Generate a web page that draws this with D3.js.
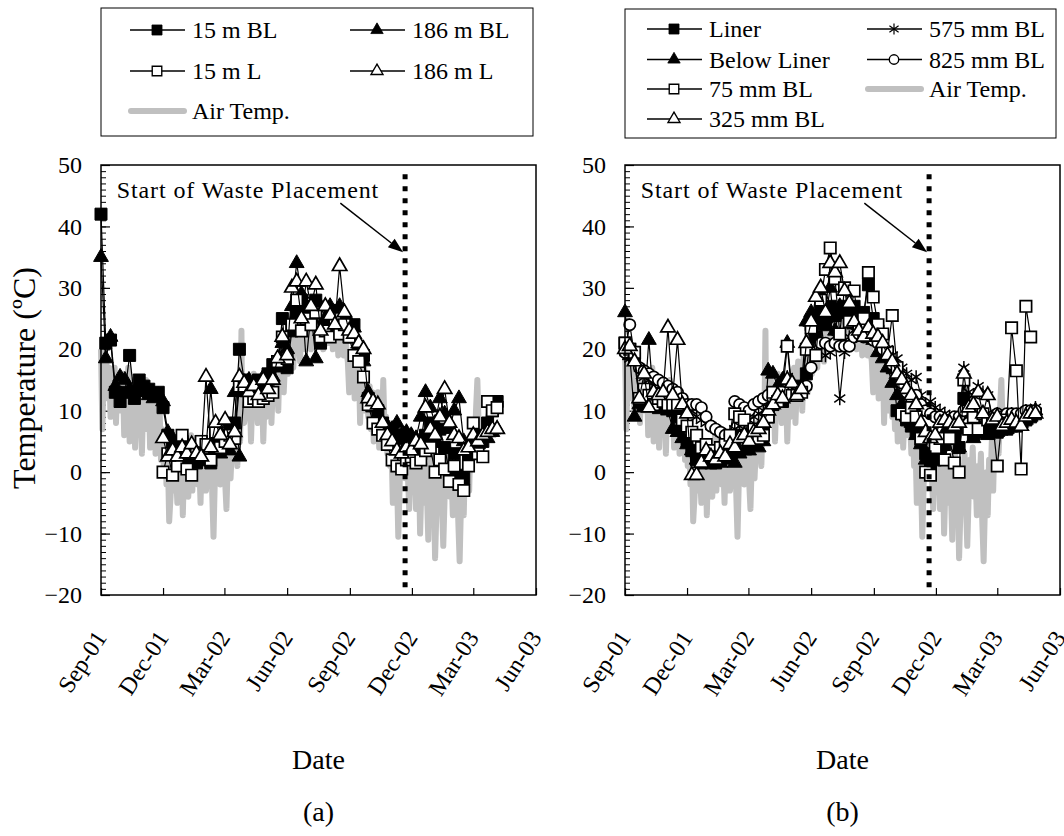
<!DOCTYPE html>
<html>
<head>
<meta charset="utf-8">
<script src="https://cdn.jsdelivr.net/npm/d3@7"></script>
<style>
body { margin: 0; background: #fff; }
svg text { font-family: "Liberation Serif", "Times New Roman", serif; fill: #000; }
</style>
</head>
<body>
<div id="chart"></div>
<script>

// axis labels
var xTickLabels = ["Sep-01", "Dec-01", "Mar-02", "Jun-02", "Sep-02", "Dec-02", "Mar-03", "Jun-03"];
var yTickValues = [-20, -10, 0, 10, 20, 30, 40, 50];

// air temperature, [days after 1 Sep 2001, deg C]
var airTemp = [
  [0,20],[2,7],[4,17],[6,14],[8,18],[10,12],[12,17],[14,9],[16,16],[18,13],[20,17],[22,8],[24,15],[26,11],[28,16],
  [30,10],[32,16],[34,6],[36,14],[38,12],[40,17],[42,5],[44,13],[46,9],[48,15],[50,4],[52,12],[54,8],[56,14],[58,10],[60,3],
  [62,12],[64,7],[66,15],[68,9],[70,13],[72,4],[74,11],[76,6],[78,12],[80,3],[82,9],[84,5],[86,10],[88,2],[90,7],
  [92,1],[94,6],[96,-2],[98,3],[100,-8],[102,-4],[104,2],[106,-3],[108,5],[110,0],[112,-5],[114,3],[116,-1],[118,4],[120,-7],
  [122,2],[124,-2],[126,4],[128,-4],[130,1],[132,6],[134,-3],[136,3],[138,-1],[140,5],[142,-2],[144,2],[146,-5],[148,4],[150,0],
  [152,3],[154,-3],[156,2],[158,5],[160,-2],[162,1],[165,-10.5],[167,-1],[169,4],[171,0],[173,6],[175,-2],[177,3],[179,7],
  [181,1],[184,-6],[186,2],[188,5],[190,-1],[192,4],[194,8],[196,3],[198,6],[200,1],[202,9],[204,5],[206,23],[207,9],[210,8],
  [212,10],[214,15],[216,9],[218,14],[220,5],[222,12],[224,16],[226,10],[228,13],[230,8],[232,15],[234,11],[236,14],[238,5],[240,12],
  [242,9],[244,15],[246,11],[248,17],[250,8],[252,14],[254,18],[256,12],[258,16],[260,10],[262,19],[264,14],[266,21],[268,13],[270,18],[272,22],
  [274,16],[276,24],[278,19],[280,25],[282,17],[284,22],[286,26],[288,20],[290,23],[292,18],[294,25],[296,21],[298,27],[300,20],[302,24],
  [304,22],[306,26],[308,20],[310,25],[312,23],[314,27],[316,21],[318,24],[320,26],[322,22],[324,25],[326,20],[328,24],[330,26],[332,21],
  [334,24],[336,21],[338,25],[340,20],[342,23],[344,22],[346,24],[348,19],[350,23],[352,21],[354,22],[356,19],[358,22],[360,20],[362,18],[364,13],
  [366,19],[368,16],[370,20],[372,12],[374,18],[376,15],[378,19],[380,8],[382,16],[384,12],[386,17],[388,10],[390,15],[392,9],[394,14],
  [396,7],[398,13],[400,5],[402,11],[404,8],[406,13],[408,4],[410,10],[412,7],[414,15],[416,6],[418,9],[420,3],[422,8],[424,1],
  [426,5],[428,-5],[430,3],[432,6],[434,0],[436,-10.5],[438,-2],[440,4],[442,1],[444,7],[446,-1],[448,3],[450,0],[452,-6],[454,2],
  [456,4],[458,-3],[460,2],[462,-6],[464,1],[466,3],[468,-10],[470,-2],[472,2],[474,-5],[476,1],[478,-3],[480,-11],[482,0],[484,3],[486,-4],
  [488,-2],[490,-14],[492,-6],[494,1],[496,-3],[498,3],[500,-5],[502,-12],[504,-4],[506,2],[508,-1],[510,4],[512,-4],[514,0],[516,-7],
  [518,1],[520,-3],[522,3],[524,-8],[526,-14.5],[528,-5],[530,0],[532,-7],[534,2],[536,-2],[538,5],[540,-3],[542,6],[544,1],
  [546,8],[548,3],[550,10],[552,15],[554,7]
];

// sampling dates shared by both panels
var sampleDates = [
  "2001-09-01","2001-09-08","2001-09-15","2001-09-22","2001-09-29","2001-10-06","2001-10-13","2001-10-20","2001-10-27","2001-11-03",
  "2001-11-10","2001-11-17","2001-11-24","2001-12-01","2001-12-08","2001-12-15","2001-12-22","2001-12-29","2002-01-05","2002-01-12",
  "2002-01-19","2002-01-26","2002-02-02","2002-02-09","2002-02-16","2002-02-23","2002-03-02","2002-03-09","2002-03-16","2002-03-23",
  "2002-03-30","2002-04-06","2002-04-13","2002-04-20","2002-04-27","2002-05-04","2002-05-11","2002-05-18","2002-05-25","2002-06-01",
  "2002-06-08","2002-06-15","2002-06-22","2002-06-29","2002-07-06","2002-07-13","2002-07-20","2002-07-27","2002-08-03","2002-08-10",
  "2002-08-17","2002-08-24","2002-08-31","2002-09-07","2002-09-14","2002-09-21","2002-09-28","2002-10-05","2002-10-12","2002-10-19",
  "2002-10-26","2002-11-02","2002-11-09","2002-11-16","2002-11-23","2002-11-30","2002-12-07","2002-12-14","2002-12-21","2002-12-28",
  "2003-01-04","2003-01-11","2003-01-18","2003-01-25","2003-02-01","2003-02-08","2003-02-15","2003-02-22","2003-03-01","2003-03-08",
  "2003-03-15","2003-03-22","2003-03-29","2003-04-05","2003-04-12","2003-04-19","2003-04-26"
];

// panel (a)
var bl15m = [
  42, 21, 21.5, 13, 11.5, 13, 19, 12, 15, 14,
  13.5, 12.5, 13, 10.5, 6, 4, 3, 5, 2, 4,
  1.5, 5, 2, 1.5, 3.5, 6, 4, 7, 8, 20,
  15, 14, 13, 15, 14.5, 16, 17.5, 18, 25, 17,
  23, 26, 28, 27, 27, 28, 21, 24, 26, 23,
  25, 23, 22, 24, 20, 19, 12, 11, 10, 8,
  7, 6.5, 6, 5.5, 6, 5.5, 4, 3, 6, 8,
  5, 7, 4, 0, 3, -0.5, -1, 2, 4, 6,
  5, 8, 10, 11.5, null, null, null
];
var bl186m = [
  35, 18.5, 22, 14, 15.5, 15, 13.5, 13, 14, 13,
  12.5, 12, 12.5, 11.5, 6.5, 5.5, 4, 3, 4.5, 2.5,
  3, 2, 4, 13.5, 5, 3, 5, 3.5, 13, 2.5,
  13, 15, 14.5, 14, 15.5, 14, 15.5, 17, 21, 20,
  27, 34, 29, 18, 26, 18.5, 27, 25, 27, 26,
  27, 25, 24.5, 23.5, 21, 18, 13, 10.5, 8.5, 8,
  7.5, 7, 8, 6, 6.5, 6, 5.5, 9, 13, 10.5,
  8, 12, 9.5, 7, 10, 12, 5, 3.5, 5, 4.5,
  6, 5.5, 6.5, 7, null, null, null
];
var l15m = [
  null, null, null, null, null, null, null, null, null, null,
  null, null, null, 0, 3, -0.5, 1, 6, 0.5, -0.5,
  3, 5, 4.5, 2, 6.5, 4, 5, 6, 5.5, 14,
  14, 11.5, 12, 11.5, 12, 12.5, 13, 18, 22, 18.5,
  24, 28, 23, 25, 24, 26, 22, 23, 22, 25,
  22.5, 24, 22, 19, 18, 15.5, 11, 8, 7, 6,
  4.5, 2, 1, 0.5, 2, 2.5, 1.5, 2, 3.5, 4,
  0, 2, 0.5, -1.5, 1, -2, -3, 1, 8, 3,
  2.5, 11.5, 10, 10.5, null, null, null
];
var l186m = [
  null, null, null, null, null, null, null, null, null, null,
  null, null, null, 5.5, 2.5, 3.5, 2.5, 4, 3, 4.5,
  3, 2.5, 15.5, 4, 8, 6, 8.5, 4.5, 6.5, 15.5,
  14.5, 13, 14, 12.5, 15, 13.5, 15, 18.5, 22, 19,
  30, 31, 25, 31, 27, 30.5, 23, 27, 25.5, 24,
  33.5, 26, 23, 22.5, 21, 20, 12, 11.5, 11, 8,
  6, 5, 3.5, 3, 4, 3.5, 5, 4.5, 10.5, 7,
  6, 9, 13.5, 8, 6, 5.5, 3.5, 4, 6, 5,
  6, 6.5, 7, 7, null, null, null
];

// panel (b)
var liner = [
  21, 20, 18.5, 12, 11, 12, 11.5, 10.5, 11, 10.5,
  10, 9, 8, 5, 3.5, 2, 1.5, 2, 1.5, 1.5,
  2, 3, 3.5, 5, 6, 6, 5.5, 6.5, 5.5, 7,
  9, 11, 12, 11.5, 13, 12.5, 13, 14, 16, 24,
  22, 26, 24, 27, 25.5, 26, 27, 25, 27, 24.5,
  26, 30.5, 25, 23, 20, 19, 17, 10, 9.5, 8.5,
  7.5, 6.5, 5, 3, 1, 2, 3.5, 4.5, 5.5, 6,
  4, 12, 9, 6, 6.5, 7, 6.5, 7, 6.5, 7,
  7, 7.5, 7.5, 8, 8.5, 9, 9.5
];
var belowLiner = [
  26, 19, 9, 11, 10.5, 21.5, 11.5, 11, 10.5, 10,
  7, 6.5, 5.5, 4.5, 3.5, 2, 3, 1.5, 1.5, 2,
  1.5, 2, 2.5, 1.5, 3, 3.5, 3.5, 4.5, 4, 5,
  16.5, 16, 14, 15, 21, 13.5, 12.5, 14, 24.5, 26,
  24.5, 29, 25, 30, 23, 27, 26, 26.5, 24, 23.5,
  22.5, 25, 21.5, 19.5, 18.5, 17, 14.5, 12.5, 11, 9,
  8, 6, 4.5, 2, 2.5, 3.5, 5, 6.5, 6, 5.5,
  4, 9, 7, 5.5, 7, 6.5, 6, 7, 6.5, 7.5,
  7, 8, 7.5, 8, 8.5, 9, 10
];
var bl75mm = [
  21, 20, 19.5, 12, 13.5, 12.5, 11, 12, 11.5, 11,
  11, 11, 8.5, 7.5, 6.5, 6, 4, 4.5, 3.5, 2.5,
  4, 4.5, 6, 9.5, 9, 8.5, 5.5, 7, 5.5, 6,
  9, 13, 11.5, 13, 20.5, 12.5, 12.5, 13, 20, 23.5,
  19, 28, 33, 36.5, 31.5, 22.5, 30, 24.5, 29.5, 24,
  25, 32.5, 28.5, 24, 22.5, 19.5, 25.5, 17, 9.5, 9,
  10.5, 9, 5.5, 0, -0.5, 4, 5.5, 2, 5.5, 1.5,
  0, 15, 7, 9, 7, 9.5, 8.5, 8.5, 1, 8.5,
  8, 23.5, 16.5, 0.5, 27, 22, null
];
var bl325mm = [
  20, 20.5, 18, 12, 16, 10.5, 13, 12.5, 13, 23.5,
  12.5, 21.5, 11, 9.5, -0.5, -0.5, 1.5, 3.5, 2.5, 2,
  3, 2.5, 4.5, 4, 5.5, 6, 5, 6.5, 7, 8,
  10, 11, 12.5, 12, 15, 14.5, 12.5, 13.5, 21, 24.5,
  28.5, 30, 26, 34, 32.5, 34, 29.5, 27.5, 24.5, 23,
  22, 23.5, 22.5, 22, 21, 19, 18, 16, 15, 13.5,
  12.5, 11, 8, 6.5, 5.5, 6, 8, 8.5, 8, 7.5,
  8, 16, 10.5, 11, 13, 9.5, 12.5, 8.5, 9, 7.5,
  8, 8.5, 8, 7.5, 9, 9.5, 9.5
];
var bl575mm = [
  19.5, 18.5, 18, 17, 15.5, 15, 14, 13.5, 13, 12.5,
  12, 11.5, 11, 10.5, 10, 9, 8.5, 8, 7.5, 7,
  6.5, 6, 6.5, 7, 7.5, 8, 8.5, 9, 9.5, 10,
  10.5, 11, 11.5, 12, 15.5, 13, 12.5, 13, 14, 19.5,
  22, 24.5, 19, 19.5, 22, 12, 19.5, 22, 23, 24,
  23, 22.5, 23, 22.5, 21.5, 20, 19, 18.5, 17, 16,
  15, 15.5, 12.5, 11, 11.5, 10.5, 10, 9.5, 9, 8.5,
  8, 17, 13, 12.5, 14, 13, 12.5, 9, 9.5, 8.5,
  9, 9.5, 9, 9.5, 10, 10, 10.5
];
var bl825mm = [
  19.5, 24, 19, 17, 16.5, 16, 15.5, 15, 14.5, 14,
  13.5, 13, 12, 11, 11, 11, 10.5, 9, 7.5, 7,
  6.5, 6, 6, 11.5, 11, 10.5, 10, 11, 11.5, 12,
  12.5, 12, 13, 12.5, 13, 13, 13, 13.5, 14, 17,
  19, 21, 21, 20.5, 21, 20.5, 20.5, 20.5, 22, 22.5,
  22, 22, 21.5, 21, 20, 19, 17.5, 16, 14.5, 13,
  12, 12.5, 11, 10, 9.5, 9, 9, 8.5, 8.5, 9,
  9, 10, 8, 9, 9.5, 9, 8.5, 9, 9.5, 9,
  9.5, 9.5, 9.5, 9.5, 10, 10, 10
];

// start of waste placement
var wasteDate = "2002-11-21";
var wasteLabel = "Start of Waste Placement";

var W = 1064, H = 836;
var parseDay = d3.timeParse("%Y-%m-%d");
var parseTick = d3.timeParse("%b-%y");
var day0 = parseDay("2001-09-01");

var svg = d3.select("#chart")
  .append("svg")
  .attr("width", W)
  .attr("height", H);

// 6 point asterisk, stroke only
var symbolStar = {
  draw: function (context, size) {
    var r = Math.sqrt(size) / 2;
    [90, 35, 145].forEach(function (a) {
      var t = a * Math.PI / 180;
      context.moveTo(-r * Math.cos(t), -r * Math.sin(t));
      context.lineTo(r * Math.cos(t), r * Math.sin(t));
    });
  }
};

var markers = {
  fsquare: { type: d3.symbolSquare, size: 144, fill: "#000", sw: 1 },
  ftri: { type: d3.symbolTriangle, size: 95, fill: "#000", sw: 1 },
  osquare: { type: d3.symbolSquare, size: 130, fill: "#fff", sw: 1.7 },
  otri: { type: d3.symbolTriangle, size: 90, fill: "#fff", sw: 1.7 },
  star: { type: symbolStar, size: 180, fill: "none", sw: 1.5 },
  ocircle: { type: d3.symbolCircle, size: 100, fill: "#fff", sw: 1.7 }
};

function markerPath(m, scale) {
  return d3.symbol().type(m.type).size(m.size * (scale || 1))();
}

function drawPanel(p) {
  var g = svg.append("g");

  var x = d3.scaleTime()
    .domain([parseTick(xTickLabels[0]), parseTick(xTickLabels[xTickLabels.length - 1])])
    .range([p.left, p.right]);
  var y = d3.scaleLinear().domain([-20, 50]).range([p.bottom, p.top]);

  // y minor ticks
  g.append("g")
    .attr("transform", "translate(" + p.left + ",0)")
    .call(d3.axisLeft(y).tickValues(d3.range(-20, 51, 1)).tickSize(-5).tickSizeOuter(0).tickFormat(""))
    .call(function (a) { a.select(".domain").remove(); });

  // y major ticks
  var ya = g.append("g")
    .attr("transform", "translate(" + p.left + ",0)")
    .call(d3.axisLeft(y).tickValues(yTickValues).tickSize(-9).tickSizeOuter(0).tickPadding(19));
  ya.select(".domain").remove();
  ya.selectAll("line").attr("stroke-width", 1.2);
  ya.selectAll("text")
    .style("font-family", "Liberation Serif, serif")
    .style("font-size", "24px");

  // x ticks
  var tickDates = xTickLabels.map(function (t) { return parseTick(t); });
  var xa = g.append("g")
    .attr("transform", "translate(0," + p.bottom + ")")
    .call(d3.axisBottom(x).tickValues(tickDates).tickSize(-7).tickSizeOuter(0)
      .tickFormat(function (d, i) { return xTickLabels[i]; }));
  xa.select(".domain").remove();
  xa.selectAll("line").attr("stroke-width", 1.2);
  xa.selectAll("text")
    .attr("x", 0).attr("y", 0).attr("dy", "0.35em")
    .attr("text-anchor", "end")
    .attr("transform", "translate(-1,38) rotate(-57)")
    .style("font-family", "Liberation Serif, serif")
    .style("font-size", "24px");

  // air temperature
  var airLine = d3.line()
    .x(function (d) { return x(d3.timeDay.offset(day0, d[0])); })
    .y(function (d) { return y(d[1]); });
  g.append("path")
    .attr("d", airLine(airTemp))
    .attr("fill", "none")
    .attr("stroke", "#c0c0c0")
    .attr("stroke-width", 6)
    .attr("stroke-linejoin", "round");

  var line = d3.line()
    .x(function (d) { return x(d.date); })
    .y(function (d) { return y(d.v); });

  p.series.forEach(function (s) {
    var pts = [];
    for (var i = 0; i < sampleDates.length; i++) {
      if (s.values[i] != null) pts.push({ date: parseDay(sampleDates[i]), v: s.values[i] });
    }
    var m = markers[s.marker];
    g.append("path")
      .attr("d", line(pts))
      .attr("fill", "none")
      .attr("stroke", "#000")
      .attr("stroke-width", 1.2);
    g.append("g").selectAll("path")
      .data(pts)
      .enter()
      .append("path")
      .attr("transform", function (d) { return "translate(" + x(d.date) + "," + y(d.v) + ")"; })
      .attr("d", markerPath(m))
      .attr("fill", m.fill)
      .attr("stroke", "#000")
      .attr("stroke-width", m.sw);
  });

  // waste placement line and arrow
  var wx = x(parseDay(wasteDate));
  g.append("line")
    .attr("x1", wx).attr("x2", wx)
    .attr("y1", y(48.5)).attr("y2", y(-19))
    .attr("stroke", "#000")
    .attr("stroke-width", 5)
    .attr("stroke-dasharray", "5 7");

  var ax1 = x(parseDay("2002-08-18")), ay1 = y(43.8);
  var ax2 = wx - 2, ay2 = y(35.8);
  var ang = Math.atan2(ay2 - ay1, ax2 - ax1);
  var hl = 15, hw = 5.5;
  var bx = ax2 - hl * Math.cos(ang), by = ay2 - hl * Math.sin(ang);
  g.append("line")
    .attr("x1", ax1).attr("y1", ay1).attr("x2", bx).attr("y2", by)
    .attr("stroke", "#000").attr("stroke-width", 1.5);
  g.append("path")
    .attr("d", "M" + ax2 + "," + ay2 +
      "L" + (bx + hw * Math.sin(ang)) + "," + (by - hw * Math.cos(ang)) +
      "L" + (bx - hw * Math.sin(ang)) + "," + (by + hw * Math.cos(ang)) + "Z")
    .attr("fill", "#000");

  g.append("text")
    .attr("x", x(parseDay("2001-09-24")))
    .attr("y", y(44.6))
    .attr("font-size", 24)
    .attr("letter-spacing", 0.9)
    .text(wasteLabel);

  // frame
  g.append("rect")
    .attr("x", p.left).attr("y", p.top)
    .attr("width", p.right - p.left).attr("height", p.bottom - p.top)
    .attr("fill", "none")
    .attr("stroke", "#000")
    .attr("stroke-width", 1.5);

  // titles
  var cx = (p.left + p.right) / 2;
  g.append("text")
    .attr("x", cx).attr("y", 769)
    .attr("text-anchor", "middle")
    .attr("font-size", 28)
    .text("Date");
  g.append("text")
    .attr("x", cx).attr("y", 821)
    .attr("text-anchor", "middle")
    .attr("font-size", 28)
    .text(p.tag);

  if (p.yTitle) {
    g.append("text")
      .attr("transform", "translate(" + 35 + "," + 378 + ") rotate(-90)")
      .attr("text-anchor", "middle")
      .attr("font-size", 32)
      .text(p.yTitle);
  }

  // legend
  var L = p.legend;
  var lg = svg.append("g");
  lg.append("rect")
    .attr("x", L.x).attr("y", L.y).attr("width", L.w).attr("height", L.h)
    .attr("fill", "#fff").attr("stroke", "#000").attr("stroke-width", 1);
  L.items.forEach(function (it) {
    var lx = L.cols[it.col], ly = L.rows[it.row];
    if (it.marker == "air") {
      lg.append("line")
        .attr("x1", lx + 1).attr("x2", lx + 54).attr("y1", ly).attr("y2", ly)
        .attr("stroke", "#c0c0c0").attr("stroke-width", 6).attr("stroke-linecap", "round");
    } else {
      var m = markers[it.marker];
      lg.append("line")
        .attr("x1", lx).attr("x2", lx + 55).attr("y1", ly).attr("y2", ly)
        .attr("stroke", "#000").attr("stroke-width", 1.3);
      lg.append("path")
        .attr("transform", "translate(" + (lx + 27) + "," + ly + ")")
        .attr("d", markerPath(m, 0.7))
        .attr("fill", m.fill).attr("stroke", "#000").attr("stroke-width", m.sw * 0.8);
    }
    lg.append("text")
      .attr("x", lx + 62).attr("y", ly).attr("dy", "0.35em")
      .attr("font-size", 24)
      .text(it.name);
  });
}

drawPanel({
  left: 101, right: 536, top: 165, bottom: 595,
  tag: "(a)",
  yTitle: "Temperature (\u00baC)",
  series: [
    { name: "15 m BL", values: bl15m, marker: "fsquare" },
    { name: "186 m BL", values: bl186m, marker: "ftri" },
    { name: "15 m L", values: l15m, marker: "osquare" },
    { name: "186 m L", values: l186m, marker: "otri" }
  ],
  legend: {
    x: 101, y: 8, w: 432, h: 128,
    cols: [130, 350], rows: [30, 71, 111],
    items: [
      { name: "15 m BL", marker: "fsquare", col: 0, row: 0 },
      { name: "186 m BL", marker: "ftri", col: 1, row: 0 },
      { name: "15 m L", marker: "osquare", col: 0, row: 1 },
      { name: "186 m L", marker: "otri", col: 1, row: 1 },
      { name: "Air Temp.", marker: "air", col: 0, row: 2 }
    ]
  }
});

drawPanel({
  left: 625, right: 1060, top: 165, bottom: 595,
  tag: "(b)",
  series: [
    { name: "Liner", values: liner, marker: "fsquare" },
    { name: "Below Liner", values: belowLiner, marker: "ftri" },
    { name: "575 mm BL", values: bl575mm, marker: "star" },
    { name: "825 mm BL", values: bl825mm, marker: "ocircle" },
    { name: "75 mm BL", values: bl75mm, marker: "osquare" },
    { name: "325 mm BL", values: bl325mm, marker: "otri" }
  ],
  legend: {
    x: 625, y: 9, w: 431, h: 129,
    cols: [647, 867], rows: [29, 59.5, 89, 119],
    items: [
      { name: "Liner", marker: "fsquare", col: 0, row: 0 },
      { name: "Below Liner", marker: "ftri", col: 0, row: 1 },
      { name: "75 mm BL", marker: "osquare", col: 0, row: 2 },
      { name: "325 mm BL", marker: "otri", col: 0, row: 3 },
      { name: "575 mm BL", marker: "star", col: 1, row: 0 },
      { name: "825 mm BL", marker: "ocircle", col: 1, row: 1 },
      { name: "Air Temp.", marker: "air", col: 1, row: 2 }
    ]
  }
});

</script>
</body>
</html>
